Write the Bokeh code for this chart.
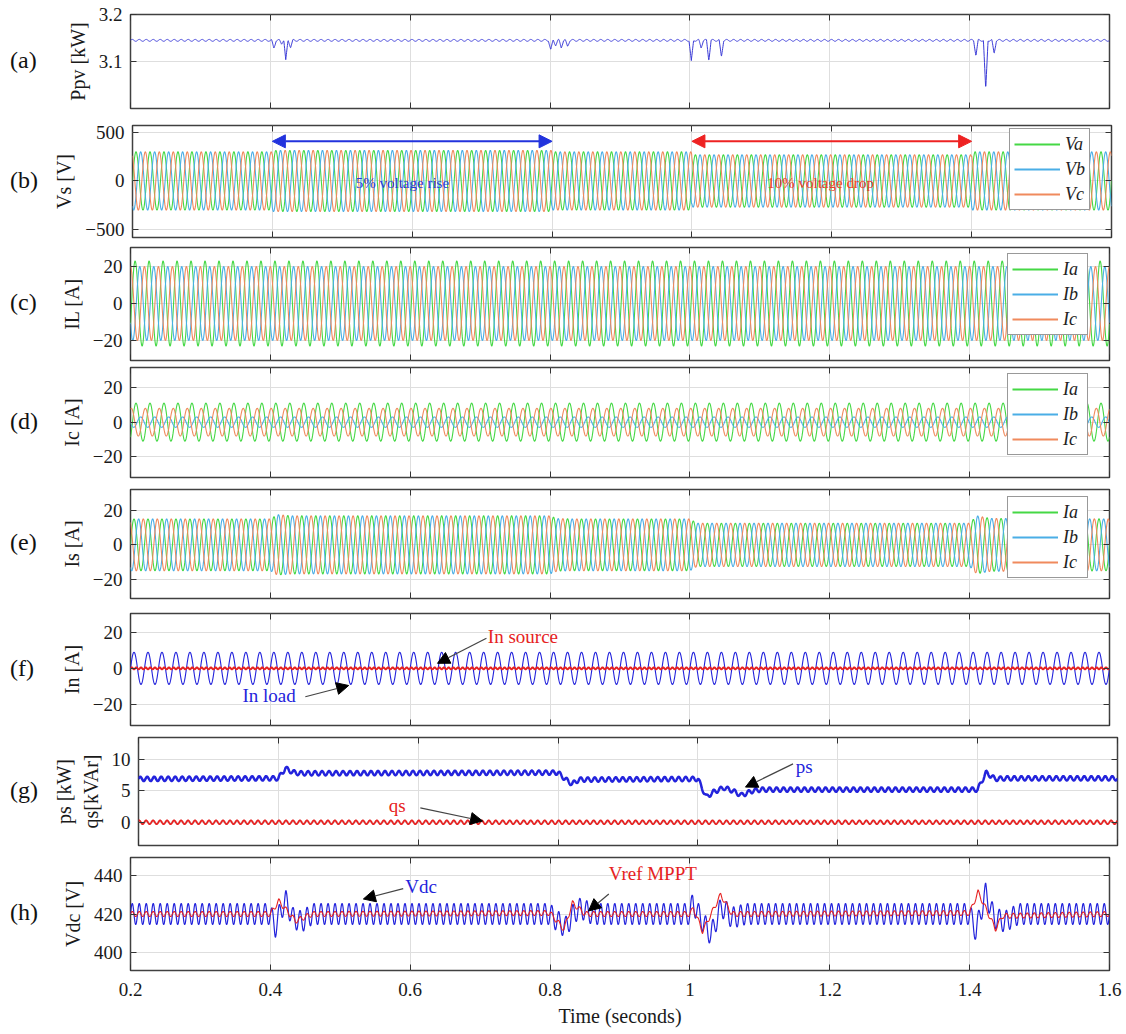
import numpy as np
from bokeh.plotting import figure
from bokeh.models import (Range1d, FixedTicker, LinearAxis, Label, Arrow, NormalHead,
                          Legend, LegendItem, PrintfTickFormatter, Div)
from bokeh.layouts import column, row
from bokeh.embed import file_html
from bokeh.resources import INLINE

# ------------------------------------------------------------------ data
x_ticks = [0.2, 0.4, 0.6, 0.8, 1.0, 1.2, 1.4, 1.6]
event_edges = [0.4, 0.8, 1.0, 1.4]          # segment boundaries
grid_freq = 50.0                            # Hz

# (a) PV power
ppv_base = 3.145
ppv_ripple = 0.002
ppv_dip_t = [0.405, 0.416, 0.422, 0.429, 0.801, 0.808, 0.816, 0.825,
             1.002, 1.016, 1.027, 1.045, 1.409, 1.423, 1.435]
ppv_dip_v = [3.128, 3.138, 3.102, 3.130, 3.124, 3.135, 3.130, 3.132,
             3.100, 3.130, 3.103, 3.110, 3.113, 3.039, 3.117]

# (b) source voltage peak per segment
vs_amp = [300, 315, 300, 270, 300]
# (c) load currents peak per phase
il_amp = [23, 20, 20]
# (d) compensator currents peak per phase
ic_amp = [11, 3, 8]
# (e) source current peak (breakpoints)
is_t = [0.2, 0.4, 0.41, 0.43, 0.8, 0.81, 0.83, 1.0, 1.01, 1.4, 1.41, 1.43, 1.6]
is_v = [15.0, 15.0, 17.5, 16.8, 16.8, 15.2, 15.0, 15.0, 12.5, 12.5, 16.8, 15.3, 15.0]
# (f) neutral currents
in_load_amp = 9.0
in_src_ripple = 0.5
# (g) active / reactive power
ps_t = [0.2, 0.4, 0.41, 0.42, 0.43, 0.8, 0.81, 0.82, 0.83, 0.85, 1.0, 1.012,
        1.022, 1.037, 1.05, 1.062, 1.078, 1.09, 1.4, 1.412, 1.425, 1.44, 1.6]
ps_v = [6.9, 7.0, 8.6, 8.0, 7.8, 7.9, 6.9, 6.1, 6.8, 6.8, 6.9, 4.0,
        4.8, 5.5, 5.0, 4.3, 5.0, 5.2, 5.2, 7.9, 6.9, 7.0, 7.0]
ps_ripple = 0.35
qs_level = 0.0
qs_ripple = 0.3
# (h) DC-link voltage and MPPT reference
vdc_t = [0.2, 0.400, 0.407, 0.415, 0.422, 0.432, 0.445, 0.46, 0.8, 0.805, 0.822,
         0.835, 0.844, 0.86, 1.0, 1.004, 1.015, 1.03, 1.045, 1.06, 1.08, 1.4,
         1.409, 1.423, 1.435, 1.45, 1.47, 1.6]
vdc_v = [420, 420, 413, 422, 427, 418, 416, 420, 420, 418, 413,
         421, 423, 420, 420, 426, 418, 409, 424, 418, 420, 420,
         411, 431, 418, 416, 420, 420]
vdc_ripple = 5.5
vref_t = [0.2, 0.4, 0.412, 0.436, 0.46, 0.8, 0.82, 0.832, 0.85, 1.0, 1.005,
          1.018, 1.044, 1.06, 1.4, 1.412, 1.437, 1.447, 1.6]
vref_v = [420, 420, 426.7, 416.4, 420, 420.5, 412, 425.7, 420, 420, 423,
          411, 430, 420, 420.5, 431.4, 412.2, 419, 420]
vref_ripple = 1.3

# ------------------------------------------------------------------ signals
t = np.linspace(0.2, 1.6, 3501)
w = 2 * np.pi * grid_freq
phases = [0.0, -2 * np.pi / 3, 2 * np.pi / 3]
seg = np.searchsorted(event_edges, t, side="right")

bt, bv = [0.2], [ppv_base]
for td, vd in zip(ppv_dip_t, ppv_dip_v):
    bt += [td - 0.0033, td, td + 0.0033]
    bv += [ppv_base, vd, ppv_base]
bt.append(1.6); bv.append(ppv_base)
order = np.argsort(bt, kind="stable")
bt = np.array(bt)[order]; bv = np.array(bv)[order]
ppv = np.interp(t, bt, bv) + ppv_ripple * np.sin(2 * w * t)

vs = [np.array(vs_amp)[seg] * np.sin(w * t + ph) for ph in phases]
il = [a * np.sin(w * t + ph - 0.5) for a, ph in zip(il_amp, phases)]
ic = [a * np.sin(w * t + ph - 0.9) for a, ph in zip(ic_amp, phases)]
isrc = [np.interp(t, is_t, is_v) * np.sin(w * t + ph) for ph in phases]
in_load = in_load_amp * np.sin(w * t)
in_src = in_src_ripple * np.sin(3 * w * t)
ps = np.interp(t, ps_t, ps_v) + ps_ripple * np.sin(2 * w * t)
qs = qs_level + qs_ripple * np.sin(2 * w * t + 1.0)
vdc = np.interp(t, vdc_t, vdc_v) + vdc_ripple * np.sin(2 * w * t)
vref = np.interp(t, vref_t, vref_v) + vref_ripple * np.sin(2 * w * t)

# ------------------------------------------------------------------ styling helpers
FONT = "Liberation Serif"
GREEN, LBLUE, ORANGE = "#45d845", "#4aaee6", "#f08a5d"
BLUE, RED = "#2323dc", "#e62222"
XT = FixedTicker(ticks=x_ticks)
LETTER_W = 50
BOTTOM_PAD = 5


def hidden_axis(ticker):
    return LinearAxis(ticker=ticker, major_tick_in=6, major_tick_out=0, axis_line_color=None,
                      minor_tick_line_color=None, major_label_text_font_size="0px",
                      major_label_text_color=None, major_label_standoff=0,
                      major_tick_line_color="#333333")


def panel(gap_top, frame_h, yr, yticks, ylabel, letter, last=False):
    bottom = 64 if last else BOTTOM_PAD
    p = figure(frame_width=979, frame_height=frame_h,
               x_range=Range1d(0.2, 1.6), y_range=Range1d(*yr),
               output_backend="svg", toolbar_location=None,
               min_border_left=130 - LETTER_W, min_border_right=17,
               min_border_top=gap_top, min_border_bottom=bottom,
               background_fill_color="white", border_fill_color="white",
               outline_line_color="#404040", outline_line_width=1.5)
    yt = FixedTicker(ticks=yticks)
    for ax in p.xaxis:
        ax.ticker = XT
        ax.formatter = PrintfTickFormatter(format="%g")
        ax.major_tick_in = 6
        ax.major_tick_out = 0
        ax.minor_tick_line_color = None
        ax.axis_line_color = None
        ax.major_tick_line_color = "#333333"
        ax.major_label_text_font = FONT
        ax.major_label_text_color = "#1a1a1a"
        if last:
            ax.major_label_text_font_size = "19px"
            ax.major_label_standoff = 12
            ax.axis_label = "Time (seconds)"
            ax.axis_label_text_font = FONT
            ax.axis_label_text_font_style = "normal"
            ax.axis_label_text_font_size = "20px"
            ax.axis_label_standoff = 6
            ax.axis_label_text_color = "#1a1a1a"
        else:
            ax.major_label_text_font_size = "0px"
            ax.major_label_text_color = None
            ax.major_label_standoff = 0
    for ax in p.yaxis:
        ax.ticker = yt
        ax.major_tick_in = 6
        ax.major_tick_out = 0
        ax.minor_tick_line_color = None
        ax.axis_line_color = None
        ax.major_tick_line_color = "#333333"
        ax.major_label_text_font = FONT
        ax.major_label_text_font_size = "19px"
        ax.major_label_text_color = "#1a1a1a"
        ax.major_label_standoff = 8
        ax.axis_label = ylabel
        ax.axis_label_text_font = FONT
        ax.axis_label_text_font_style = "normal"
        ax.axis_label_text_font_size = "20px"
        ax.axis_label_text_color = "#1a1a1a"
        ax.axis_label_standoff = 7
    p.add_layout(hidden_axis(XT), "above")
    p.add_layout(hidden_axis(yt), "right")
    p.xgrid.ticker = XT
    p.ygrid.ticker = yt
    p.xgrid.grid_line_color = "#dedede"
    p.ygrid.grid_line_color = "#dedede"
    total_h = gap_top + frame_h + bottom
    mt = gap_top + frame_h / 2 - 15
    div = Div(text=(f'<div style="margin-top:{mt:.0f}px;padding-left:10px;'
                    f'font-family:\'Liberation Serif\';font-size:24px;line-height:28px;'
                    f'color:#111111;">{letter}</div>'),
              width=LETTER_W, height=total_h, margin=0)
    return p, div


def three_phase(p, series, labels, y_off):
    colors = [GREEN, LBLUE, ORANGE]
    for y, c in zip(series, colors):
        p.line(t, y, line_color=c, line_width=1.1)
    # legend keys: same series masked out entirely, drawn thicker for the key only
    keys = [p.line(t, np.where(np.isfinite(y), np.nan, y), line_color=c, line_width=2)
            for y, c in zip(series, colors)]
    items = [LegendItem(label=l, renderers=[r]) for l, r in zip(labels, keys)]
    lg = Legend(items=items, location=(877, y_off), orientation="vertical",
                label_text_font=FONT, label_text_font_style="italic",
                label_text_font_size="18px", label_text_color="#222222",
                glyph_width=46, glyph_height=22, label_height=22, label_standoff=5,
                spacing=3, padding=4, margin=0,
                border_line_color="#333333", border_line_width=1,
                background_fill_color="white", background_fill_alpha=1.0)
    p.add_layout(lg)


def arrow(p, x0, y0, x1, y1, color="#444444"):
    p.add_layout(Arrow(end=NormalHead(size=12, fill_color="black", line_color="black"),
                       x_start=x0, y_start=y0, x_end=x1, y_end=y1,
                       line_color=color, line_width=1.2))


def text(p, x, y, s, color, size="19px"):
    p.add_layout(Label(x=x, y=y, text=s, text_color=color, text_font=FONT,
                       text_font_size=size, text_align="left", text_baseline="middle"))


rows = []

# (a)
pa, da = panel(14, 94, (3.0, 3.2), [3.1, 3.2], "Ppv [kW]", "(a)")
pa.line(t, ppv, line_color="#3a3ad6", line_width=1)
rows.append(row(da, pa))

# (b)
pb, db = panel(17 - BOTTOM_PAD, 112, (-582, 571), [-500, 0, 500], "Vs [V]", "(b)")
three_phase(pb, vs, ["Va", "Vb", "Vc"], 27)
pb.add_layout(Arrow(start=NormalHead(size=13, fill_color="#2233dd", line_color="#2233dd"),
                    end=NormalHead(size=13, fill_color="#2233dd", line_color="#2233dd"),
                    x_start=0.4, y_start=408, x_end=0.8, y_end=408,
                    line_color="#2233dd", line_width=2))
pb.add_layout(Arrow(start=NormalHead(size=13, fill_color="#ee2222", line_color="#ee2222"),
                    end=NormalHead(size=13, fill_color="#ee2222", line_color="#ee2222"),
                    x_start=1.0, y_start=408, x_end=1.4, y_end=408,
                    line_color="#ee2222", line_width=2))
pb.add_layout(Label(x=0.586, y=-20, text="5% voltage rise", text_color="#2a3bd6",
                    text_font=FONT, text_font_size="15px", text_align="center",
                    text_baseline="middle"))
pb.add_layout(Label(x=1.184, y=-20, text="10% voltage drop", text_color="#e8402a",
                    text_font=FONT, text_font_size="15px", text_align="center",
                    text_baseline="middle"))
rows.append(row(db, pb))

# (c)
pc, dc = panel(10 - BOTTOM_PAD, 113, (-30.8, 30.3), [-20, 0, 20], "IL [A]", "(c)")
three_phase(pc, il, ["Ia", "Ib", "Ic"], 25)
rows.append(row(dc, pc))

# (d)
pd_, dd = panel(7 - BOTTOM_PAD, 110, (-32, 31.6), [-20, 0, 20], "Ic [A]", "(d)")
three_phase(pd_, ic, ["Ia", "Ib", "Ic"], 22)
rows.append(row(dd, pd_))

# (e)
pe, de = panel(12 - BOTTOM_PAD, 109, (-31, 32), [-20, 0, 20], "Is [A]", "(e)")
three_phase(pe, isrc, ["Ia", "Ib", "Ic"], 20)
rows.append(row(de, pe))

# (f)
pf, df = panel(15 - BOTTOM_PAD, 112, (-32, 30.7), [-20, 0, 20], "In [A]", "(f)")
pf.line(t, in_load, line_color=BLUE, line_width=1.1)
pf.line(t, in_src, line_color=RED, line_width=2)
text(pf, 0.711, 17.8, "In source", RED)
arrow(pf, 0.709, 16.8, 0.639, 2.8)
text(pf, 0.36, -15.2, "In load", BLUE)
arrow(pf, 0.45, -15.9, 0.512, -9.6)
rows.append(row(df, pf))

# (g)
pg, dg = panel(12 - BOTTOM_PAD, 108, (-3.7, 13.5), [0, 5, 10], "ps [kW]\nqs[kVAr]", "(g)")
pg.line(t, qs, line_color=RED, line_width=1.8)
pg.line(t, ps, line_color=BLUE, line_width=2.5)
text(pg, 1.14, 8.9, "ps", BLUE)
arrow(pg, 1.136, 9.3, 1.068, 5.6)
text(pg, 0.558, 2.6, "qs", RED)
arrow(pg, 0.603, 2.3, 0.692, 0.2)
rows.append(row(dg, pg))

# (h)
ph, dh = panel(12 - BOTTOM_PAD, 113, (390.6, 449.4), [400, 420, 440], "Vdc [V]", "(h)", last=True)
ph.line(t, vdc, line_color=BLUE, line_width=1.2)
ph.line(t, vref, line_color=RED, line_width=1.1)
text(ph, 0.593, 434.5, "Vdc", BLUE)
arrow(ph, 0.59, 433.2, 0.533, 427.8)
text(ph, 0.884, 441.3, "Vref MPPT", RED)
arrow(ph, 0.884, 430.4, 0.855, 421.6)
rows.append(row(dh, ph))

layout = column(*rows, spacing=0)
open("out.html", "w").write(file_html(layout, INLINE))
